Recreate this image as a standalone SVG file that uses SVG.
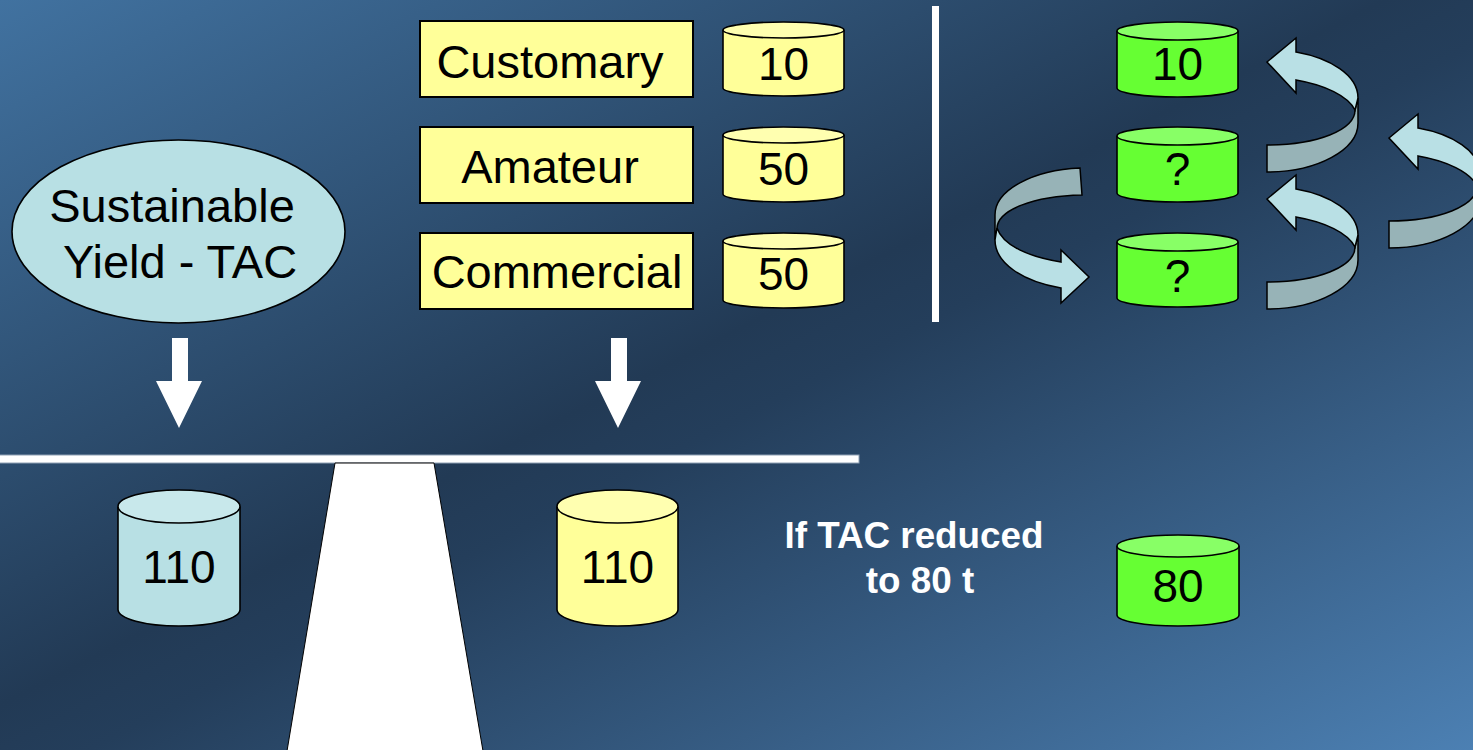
<svg xmlns="http://www.w3.org/2000/svg" width="1473" height="750" viewBox="0 0 1473 750">
<defs>
<linearGradient id="bg" x1="0" y1="0" x2="1" y2="1">
<stop offset="0" stop-color="#4172a0"/>
<stop offset="0.47" stop-color="#223a55"/>
<stop offset="0.53" stop-color="#243e5b"/>
<stop offset="1" stop-color="#4c80b3"/>
</linearGradient>
</defs>
<style>
.t{font-family:"Liberation Sans",Arial,sans-serif;fill:#000;text-anchor:middle}
.big{font-size:47px}
.num{font-size:46px}
.note{fill:#fff;font-weight:bold;font-size:36.8px}
.box{fill:#ffff99;stroke:#000;stroke-width:2}
.yb{fill:#ffff99;stroke:#000;stroke-width:1.6}
.yt{fill:#ffffb0;stroke:#000;stroke-width:1.6}
.gb{fill:#66ff33;stroke:#000;stroke-width:1.6}
.gt{fill:#88ff66;stroke:#000;stroke-width:1.6}
.cb{fill:#b8e0e4;stroke:#000;stroke-width:1.6}
.ct{fill:#c8e8eb;stroke:#000;stroke-width:1.6}
.rf{fill:#b9e0e5;stroke:#000;stroke-width:1.5;stroke-linejoin:miter}
.rb{fill:#97b3b7;stroke:#000;stroke-width:1.5}
.w{fill:#fff}
</style>
<rect width="1473" height="750" fill="url(#bg)"/>

<g id="divider">
<rect x="932" y="6" width="7" height="316" class="w"/>
</g>
<g id="beam">
<rect x="-2" y="455" width="861" height="8" class="w" stroke="#8ea0b4" stroke-width="1"/>
</g>
<g id="fulcrum">
<polygon points="335,463 434,463 483,751 287,751" class="w" stroke="#000" stroke-width="1"/>
</g>

<g id="sustainable-yield">
<ellipse cx="178.5" cy="231.5" rx="166.5" ry="91.5" fill="#b8e0e4" stroke="#000" stroke-width="1.6"/>
<text x="172" y="222" class="t big">Sustainable</text>
<text x="180" y="278" class="t big">Yield - TAC</text>
</g>

<g id="customary">
<rect x="420" y="21" width="273" height="76" class="box"/>
<text x="550" y="78" class="t big">Customary</text>
</g>
<g id="amateur">
<rect x="420" y="127" width="273" height="76" class="box"/>
<text x="550" y="183" class="t big">Amateur</text>
</g>
<g id="commercial">
<rect x="420" y="233" width="273" height="76" class="box"/>
<text x="557" y="288" class="t big">Commercial</text>
</g>

<g id="cyl-customary">
<path d="M723,30 V88 A60.5,8 0 0 0 844,88 V30" class="yb"/>
<ellipse cx="783.5" cy="30" rx="60.5" ry="8" class="yt"/>
<text x="783.5" y="80" class="t num">10</text>
</g>
<g id="cyl-amateur">
<path d="M723,135 V194 A60.5,8 0 0 0 844,194 V135" class="yb"/>
<ellipse cx="783.5" cy="135" rx="60.5" ry="8" class="yt"/>
<text x="783.5" y="185" class="t num">50</text>
</g>
<g id="cyl-commercial">
<path d="M723,241 V300 A60.5,8 0 0 0 844,300 V241" class="yb"/>
<ellipse cx="783.5" cy="241" rx="60.5" ry="8" class="yt"/>
<text x="783.5" y="290" class="t num">50</text>
</g>

<g id="green-1">
<path d="M1117,31 V88 A60.5,9 0 0 0 1238,88 V31" class="gb"/>
<ellipse cx="1177.5" cy="31" rx="60.5" ry="9" class="gt"/>
<text x="1177.5" y="80" class="t num">10</text>
</g>
<g id="green-2">
<path d="M1117,136 V193 A60.5,9 0 0 0 1238,193 V136" class="gb"/>
<ellipse cx="1177.5" cy="136" rx="60.5" ry="9" class="gt"/>
<text x="1177.5" y="185" class="t num">?</text>
</g>
<g id="green-3">
<path d="M1117,242 V298 A60.5,9 0 0 0 1238,298 V242" class="gb"/>
<ellipse cx="1177.5" cy="242" rx="60.5" ry="9" class="gt"/>
<text x="1177.5" y="292" class="t num">?</text>
</g>

<g id="cyl-tac">
<path d="M118,506.5 V609.5 A61,16.5 0 0 0 240,609.5 V506.5" class="cb"/>
<ellipse cx="179" cy="506.5" rx="61" ry="16.5" class="ct"/>
<text x="179" y="583" class="t num">110</text>
</g>
<g id="cyl-sum">
<path d="M557,506.5 V609.5 A60.5,16.5 0 0 0 678,609.5 V506.5" class="yb"/>
<ellipse cx="617.5" cy="506.5" rx="60.5" ry="16.5" class="yt"/>
<text x="617.5" y="583" class="t num">110</text>
</g>

<g id="note">
<text x="914" y="548" class="t note">If TAC reduced</text>
<text x="920" y="593" class="t note">to 80 t</text>
</g>
<g id="green-80">
<path d="M1117,546 V615 A61,11 0 0 0 1239,615 V546" class="gb"/>
<ellipse cx="1178" cy="546" rx="61" ry="11" class="gt"/>
<text x="1178" y="602" class="t num">80</text>
</g>

<g id="connectors">
<polygon points="172,338 188,338 188,381 202,381 179,428 156,381 172,381" class="w"/>
<polygon points="611,338 627,338 627,381 641,381 618,428 595,381 611,381" class="w"/>
<g id="curve-a">
<path d="M1358,98 L1358,123 C1358,150 1317,172 1267,172 L1267,145 C1317,145 1355,130 1355,110 Z" class="rb"/>
<path d="M1358,98 C1358,75 1330,58 1296,52 L1296,38 L1267,62 L1296,93 L1296,80 C1325,85 1348,96 1355,110 Z" class="rf"/>
</g>
<g id="curve-b" transform="translate(0,137)">
<path d="M1358,98 L1358,123 C1358,150 1317,172 1267,172 L1267,145 C1317,145 1355,130 1355,110 Z" class="rb"/>
<path d="M1358,98 C1358,75 1330,58 1296,52 L1296,38 L1267,62 L1296,93 L1296,80 C1325,85 1348,96 1355,110 Z" class="rf"/>
</g>
<g id="curve-c" transform="translate(122,76)">
<path d="M1358,98 L1358,123 C1358,150 1317,172 1267,172 L1267,145 C1317,145 1355,130 1355,110 Z" class="rb"/>
<path d="M1358,98 C1358,75 1330,58 1296,52 L1296,38 L1267,62 L1296,93 L1296,80 C1325,85 1348,96 1355,110 Z" class="rf"/>
</g>
<g id="curve-d">
<path d="M995,240 L995,215 C995,190 1033,170 1080,168 L1082,195 C1033,196 998,210 997,228 Z" class="rb"/>
<path d="M995,240 C995,263 1022,281 1061,288 L1061,303 L1089,277 L1061,250 L1061,262 C1030,257 1003,246 997,228 Z" class="rf"/>
</g>
</g>
</svg>
